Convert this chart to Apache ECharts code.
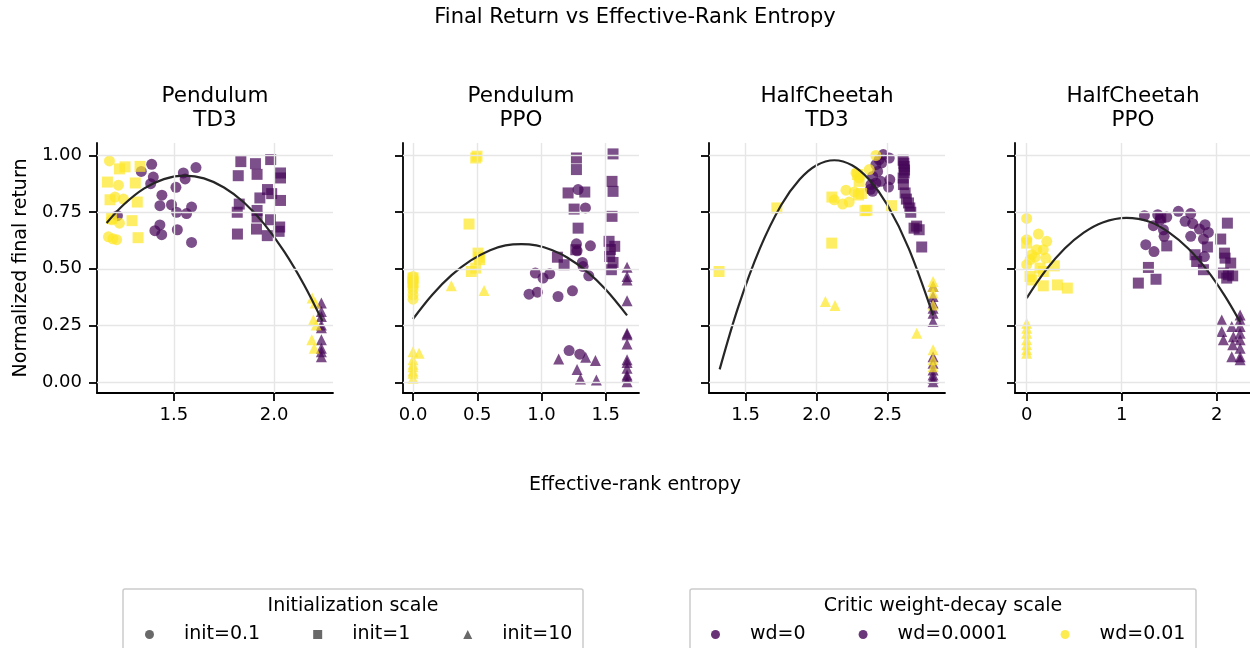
<!DOCTYPE html>
<html><head><meta charset="utf-8">
<script src="https://cdn.jsdelivr.net/npm/echarts@6/dist/echarts.min.js"></script>
<style>html,body{margin:0;padding:0;background:#fff}#c{width:1250px;height:648px}</style>
</head><body><div id="c"></div>
<script>
// ---------- data ----------
const panelTitles = ['Pendulum\nTD3', 'Pendulum\nPPO', 'HalfCheetah\nTD3', 'HalfCheetah\nPPO'];
const initLabels = ['init=0.1', 'init=1', 'init=10'];
const wdLabels = ['wd=0', 'wd=0.0001', 'wd=0.01'];
const wdValues = [0, 0.0001, 0.01];
const yTicks = [0, 0.25, 0.5, 0.75, 1.0];
const xTicksPendTD3 = [1.5, 2.0];
const xTicksPendPPO = [0, 0.5, 1.0, 1.5];
const xTicksCheetahTD3 = [1.5, 2.0, 2.5];
const xTicksCheetahPPO = [0, 1, 2];

// points: [entropy, normalized return, wd]
const pendTD3_init01 = [
 [1.178,0.975,0.01],[1.223,0.868,0.01],[1.206,0.816,0.01],[1.248,0.807,0.01],[1.189,0.716,0.01],[1.228,0.701,0.01],[1.173,0.641,0.01],[1.214,0.628,0.01],[1.195,0.632,0.01],
 [1.389,0.960,0],[1.337,0.929,0.0001],[1.397,0.904,0],[1.384,0.875,0.0001],[1.510,0.859,0],[1.547,0.922,0.0001],[1.556,0.896,0],[1.610,0.946,0.0001],[1.440,0.824,0],[1.430,0.778,0.0001],
 [1.488,0.782,0],[1.513,0.749,0.0001],[1.563,0.743,0],[1.588,0.772,0.0001],[1.218,0.734,0],[1.430,0.693,0.0001],[1.405,0.668,0],[1.439,0.650,0.0001],[1.517,0.672,0],[1.588,0.616,0.0001]
];
const pendTD3_init1 = [
 [1.228,0.940,0.01],[1.256,0.949,0.01],[1.331,0.951,0.01],[1.168,0.882,0.01],[1.307,0.878,0.01],[1.181,0.804,0.01],[1.317,0.794,0.01],[1.189,0.722,0.01],[1.291,0.712,0.01],[1.321,0.637,0.01],
 [1.834,0.972,0],[1.907,0.963,0.0001],[1.983,0.981,0],[1.821,0.910,0.0001],[1.915,0.916,0],[2.032,0.922,0.0001],[2.032,0.900,0],[1.967,0.849,0.0001],[1.988,0.831,0],[1.929,0.812,0.0001],
 [2.032,0.801,0],[1.826,0.785,0.0001],[1.816,0.749,0],[1.915,0.757,0.0001],[1.915,0.728,0],[1.982,0.716,0.0001],[2.028,0.684,0],[2.025,0.665,0.0001],[1.912,0.675,0],[1.966,0.646,0.0001],[1.817,0.653,0]
];
const pendTD3_init10 = [
 [2.190,0.371,0.01],[2.205,0.349,0.01],[2.196,0.275,0.01],[2.210,0.253,0.01],[2.188,0.187,0.01],[2.200,0.150,0.01],
 [2.236,0.349,0],[2.236,0.312,0.0001],[2.236,0.290,0],[2.236,0.253,0.0001],[2.236,0.240,0],[2.236,0.187,0.0001],[2.236,0.150,0],[2.236,0.135,0.0001],[2.236,0.113,0]
];
const pendTD3_fit = [[1.164,0.702],[1.25,0.783],[1.35,0.853],[1.45,0.895],[1.555,0.910],[1.65,0.898],[1.75,0.858],[1.85,0.792],[1.95,0.698],[2.05,0.577],[2.15,0.429],[2.241,0.270]];

const pendPPO_init01 = [
 [0,0.466,0.01],[0,0.451,0.01],[0,0.437,0.01],[0,0.422,0.01],[0,0.407,0.01],[0,0.385,0.01],[0,0.366,0.01],
 [0.952,0.481,0],[1.012,0.459,0.0001],[1.064,0.478,0],[0.903,0.388,0.0001],[0.968,0.397,0],[1.129,0.378,0.0001],[1.241,0.403,0],[1.285,0.849,0.0001],[1.342,0.768,0],
 [1.272,0.610,0.0001],[1.277,0.579,0],[1.318,0.528,0.0001],[1.324,0.510,0],[1.368,0.469,0.0001],[1.381,0.601,0],[1.215,0.140,0.0001],[1.298,0.124,0]
];
const pendPPO_init1 = [
 [0.488,0.988,0.01],[0.498,0.996,0.01],[0.436,0.697,0.01],[0.506,0.569,0.01],[0.519,0.540,0.01],[0.488,0.503,0.01],[0.454,0.488,0.01],[0.514,0.551,0.01],[0,0.460,0.01],[0,0.440,0.01],
 [1.272,0.988,0],[1.272,0.937,0.0001],[1.207,0.834,0],[1.337,0.838,0.0001],[1.254,0.763,0],[1.285,0.679,0.0001],[1.124,0.551,0],[1.176,0.518,0.0001],[1.267,0.584,0],
 [1.557,1.006,0.0001],[1.549,0.885,0],[1.557,0.841,0.0001],[1.549,0.731,0],[1.526,0.621,0.0001],[1.570,0.599,0],[1.531,0.554,0.0001],[1.557,0.528,0],[1.544,0.496,0.0001],[1.536,0.585,0]
];
const pendPPO_init10 = [
 [0.298,0.425,0.01],[0.553,0.404,0.01],[0,0.135,0.01],[0.047,0.128,0.01],[0,0.099,0.01],[0,0.080,0.01],[0,0.069,0.01],[0,0.050,0.01],[0,0.040,0.01],[0,0.018,0.01],
 [1.134,0.103,0],[1.277,0.057,0.0001],[1.303,0.015,0],[1.344,0.110,0.0001],[1.420,0.096,0],[1.427,0.010,0.0001],
 [1.666,0.507,0],[1.666,0.466,0.0001],[1.666,0.451,0],[1.666,0.359,0.0001],[1.666,0.216,0],[1.666,0.209,0.0001],[1.666,0.169,0],[1.666,0.099,0.0001],[1.666,0.087,0],
 [1.666,0.062,0.0001],[1.666,0.032,0],[1.666,0.025,0.0001],[1.666,0.003,0]
];
const pendPPO_fit = [[0,0.279],[0.15,0.386],[0.3,0.472],[0.45,0.537],[0.6,0.582],[0.72,0.603],[0.843,0.609],[0.96,0.603],[1.08,0.583],[1.2,0.550],[1.35,0.490],[1.5,0.409],[1.666,0.295]];

const cheetahTD3_init01 = [
 [2.125,0.804,0.01],[2.184,0.785,0.01],[2.230,0.794,0.01],[2.207,0.846,0.01],[2.266,0.838,0.01],[2.278,0.922,0.01],[2.371,0.937,0.01],[2.418,0.999,0.01],[2.300,0.900,0.01],
 [2.470,1.003,0],[2.512,0.988,0.0001],[2.441,0.981,0],[2.418,0.959,0.0001],[2.430,0.929,0],[2.395,0.907,0.0001],[2.516,0.893,0],[2.453,0.885,0.0001],[2.383,0.871,0],
 [2.507,0.860,0.0001],[2.418,0.878,0],[2.395,0.841,0.0001],[2.460,0.966,0],[2.380,0.850,0.0001]
];
const cheetahTD3_init1 = [
 [1.313,0.488,0.01],[1.720,0.768,0.01],[2.107,0.613,0.01],[2.108,0.816,0.01],[2.528,0.778,0.01],[2.341,0.756,0.01],[2.355,0.758,0.01],[2.289,0.915,0.01],[2.300,0.885,0.01],[2.295,0.825,0.01],[2.316,0.832,0.01],
 [2.610,0.978,0],[2.615,0.965,0.0001],[2.617,0.951,0],[2.620,0.935,0.0001],[2.617,0.922,0],[2.610,0.900,0.0001],[2.612,0.871,0],[2.624,0.834,0.0001],[2.633,0.807,0],[2.648,0.790,0.0001],
 [2.657,0.768,0],[2.664,0.749,0.0001],[2.687,0.679,0],[2.723,0.672,0.0001],[2.705,0.688,0],[2.741,0.596,0.0001]
];
const cheetahTD3_init10 = [
 [2.062,0.356,0.01],[2.130,0.338,0.01],[2.706,0.216,0.01],[2.821,0.444,0.01],[2.821,0.422,0.01],[2.821,0.393,0.01],[2.821,0.341,0.01],[2.821,0.143,0.01],[2.821,0.099,0.01],[2.821,0.069,0.01],
 [2.821,0.422,0],[2.821,0.378,0.0001],[2.821,0.349,0],[2.821,0.326,0.0001],[2.821,0.304,0],[2.821,0.268,0.0001],[2.821,0.113,0],[2.821,0.084,0.0001],[2.821,0.054,0],[2.821,0.032,0.0001],[2.821,0.018,0],[2.821,0.003,0.0001]
];
const cheetahTD3_fit = [[1.317,0.057],[1.45,0.336],[1.6,0.589],[1.75,0.780],[1.88,0.893],[2.0,0.956],[2.125,0.978],[2.25,0.956],[2.37,0.893],[2.5,0.780],[2.65,0.589],[2.821,0.295]];

const cheetahPPO_init01 = [
 [0,0.722,0.01],[0,0.628,0.01],[0.123,0.653,0.01],[0.211,0.621,0.01],[0.175,0.584,0.01],[0.105,0.584,0.01],[0.053,0.562,0.01],[0.088,0.551,0.01],[0.2,0.547,0.01],[0,0.518,0.01],[0.035,0.540,0.01],
 [1.239,0.734,0],[1.379,0.738,0.0001],[1.474,0.728,0],[1.596,0.753,0.0001],[1.726,0.743,0],[1.667,0.709,0.0001],[1.747,0.699,0],[1.877,0.694,0.0001],[1.333,0.690,0],[1.439,0.672,0.0001],
 [1.818,0.675,0],[1.912,0.660,0.0001],[1.446,0.643,0],[1.726,0.643,0.0001],[1.860,0.631,0],[1.253,0.606,0.0001],[1.340,0.576,0],[1.870,0.554,0.0001],[1.404,0.716,0]
];
const cheetahPPO_init1 = [
 [0,0.613,0.01],[0.035,0.466,0.01],[0.053,0.451,0.01],[0.175,0.488,0.01],[0.291,0.513,0.01],[0.175,0.425,0.01],[0.323,0.429,0.01],[0.428,0.415,0.01],[0.140,0.503,0.01],
 [1.411,0.725,0],[1.474,0.601,0.0001],[1.281,0.506,0],[1.361,0.454,0.0001],[1.175,0.437,0],[2.112,0.701,0.0001],[2.042,0.631,0],[1.902,0.596,0.0001],[2.081,0.569,0],
 [2.088,0.547,0.0001],[2.147,0.525,0],[1.772,0.562,0.0001],[1.789,0.532,0],[1.860,0.496,0.0001],[2.070,0.481,0],[2.123,0.474,0.0001],[2.168,0.469,0],[2.105,0.459,0.0001]
];
const cheetahPPO_init10 = [
 [0,0.260,0.01],[0,0.238,0.01],[0,0.216,0.01],[0,0.187,0.01],[0,0.165,0.01],[0,0.143,0.01],[0,0.128,0.01],
 [2.053,0.275,0],[2.053,0.224,0.0001],[2.070,0.187,0],[2.158,0.246,0.0001],[2.246,0.297,0],[2.246,0.275,0.0001],[2.246,0.246,0],[2.246,0.216,0.0001],[2.246,0.187,0],
 [2.246,0.150,0.0001],[2.246,0.113,0],[2.246,0.099,0.0001],[2.168,0.165,0],[2.158,0.113,0.0001],[2.175,0.201,0]
];
const cheetahPPO_fit = [[0,0.371],[0.2,0.493],[0.4,0.589],[0.6,0.659],[0.8,0.704],[1.05,0.724],[1.3,0.706],[1.5,0.659],[1.7,0.589],[1.9,0.493],[2.08,0.384],[2.246,0.266]];

// ---------- layout & style ----------
const FONT = 'DejaVu Sans';
const symbols = ['circle', 'rect', 'triangle'];
const wdColors = ['#440154', '#450559', '#fde725'];
const panels = [
  {sets: [pendTD3_init01, pendTD3_init1, pendTD3_init10], fit: pendTD3_fit, ticks: xTicksPendTD3, min: 1.116, max: 2.294, dec: 1},
  {sets: [pendPPO_init01, pendPPO_init1, pendPPO_init10], fit: pendPPO_fit, ticks: xTicksPendPPO, min: -0.078, max: 1.759, dec: 1},
  {sets: [cheetahTD3_init01, cheetahTD3_init1, cheetahTD3_init10], fit: cheetahTD3_fit, ticks: xTicksCheetahTD3, min: 1.242, max: 2.905, dec: 1},
  {sets: [cheetahPPO_init01, cheetahPPO_init1, cheetahPPO_init10], fit: cheetahPPO_fit, ticks: xTicksCheetahPPO, min: -0.123, max: 2.35, dec: 0}
];
const GL = [97, 403, 709, 1015], GT = 143, GW = 236, GH = 250;

const grid = [], xAxis = [], yAxis = [], series = [], title = [];
const axisLine = {show: true, onZero: false, lineStyle: {color: '#000', width: 1.8}};
panels.forEach((p, pi) => {
  grid.push({left: GL[pi], top: GT, width: GW, height: GH});
  xAxis.push({type: 'value', gridIndex: pi, min: p.min, max: p.max,
    axisLine, splitLine: {show: false},
    axisTick: {show: true, length: 8, customValues: p.ticks, lineStyle: {color: '#000', width: 1.8}},
    axisLabel: {customValues: p.ticks, formatter: v => v.toFixed(p.dec), fontSize: 18, color: '#000', fontFamily: FONT, margin: 13}
  });
  yAxis.push({type: 'value', gridIndex: pi, min: -0.047, max: 1.054,
    axisLine, splitLine: {show: false},
    axisTick: {show: true, length: 8, customValues: yTicks, lineStyle: {color: '#000', width: 1.8}},
    axisLabel: {show: pi === 0, customValues: yTicks, formatter: v => v.toFixed(2), fontSize: 18, color: '#000', fontFamily: FONT, margin: 15},
    name: pi === 0 ? 'Normalized final return' : '', nameLocation: 'middle', nameGap: 66, nameRotate: 90,
    nameTextStyle: {fontSize: 19, color: '#000', fontFamily: FONT}
  });
  // grid lines at tick values
  series.push({type: 'line', xAxisIndex: pi, yAxisIndex: pi, data: [], z: 0, silent: true,
    markLine: {silent: true, symbol: ['none', 'none'], label: {show: false}, animation: false,
      lineStyle: {color: '#e6e6e6', width: 1.4, type: 'solid'},
      data: yTicks.map(v => ({yAxis: v})).concat(p.ticks.map(v => ({xAxis: v})))}
  });
  p.sets.forEach((set, si) => {
    wdValues.forEach((wd, wi) => {
      const pts = set.filter(d => d[2] === wd).map(d => [d[0], d[1]]);
      if (!pts.length) return;
      series.push({type: 'scatter', name: panelTitles[pi].replace('\n', ' ') + ' ' + initLabels[si] + ' ' + wdLabels[wi],
        xAxisIndex: pi, yAxisIndex: pi, data: pts, symbol: symbols[si], symbolSize: 11,
        itemStyle: {color: wdColors[wi], opacity: 0.7}, z: 2, silent: true});
    });
  });
  series.push({type: 'line', name: 'fit ' + pi, xAxisIndex: pi, yAxisIndex: pi, data: p.fit, smooth: 0.35,
    showSymbol: false, symbol: 'none', lineStyle: {color: '#262626', width: 2.2}, z: 3, silent: true});
  title.push({text: panelTitles[pi], left: GL[pi] + GW / 2, textAlign: 'center', top: 84, padding: 0,
    textStyle: {fontSize: 21.5, fontWeight: 'normal', color: '#000', fontFamily: FONT, lineHeight: 24}});
});
// legend-only series
initLabels.forEach(n => series.push({type: 'scatter', name: n, data: [], xAxisIndex: 0, yAxisIndex: 0, itemStyle: {color: '#444'}}));
wdLabels.forEach((n, i) => series.push({type: 'scatter', name: n, data: [], xAxisIndex: 0, yAxisIndex: 0, itemStyle: {color: wdColors[i]}}));

title.push({text: 'Final Return vs Effective-Rank Entropy', left: 635, textAlign: 'center', top: 6, padding: 0,
  textStyle: {fontSize: 21, fontWeight: 'normal', color: '#000', fontFamily: FONT, lineHeight: 24}});
title.push({text: 'Effective-rank entropy', left: 635, textAlign: 'center', top: 474, padding: 0,
  textStyle: {fontSize: 19, fontWeight: 'normal', color: '#000', fontFamily: FONT, lineHeight: 22}});
title.push({text: 'Initialization scale', left: 353, textAlign: 'center', top: 595, padding: 0,
  textStyle: {fontSize: 19, fontWeight: 'normal', color: '#000', fontFamily: FONT, lineHeight: 22}});
title.push({text: 'Critic weight-decay scale', left: 943, textAlign: 'center', top: 595, padding: 0,
  textStyle: {fontSize: 19, fontWeight: 'normal', color: '#000', fontFamily: FONT, lineHeight: 22}});

const legendCommon = {orient: 'horizontal', top: 625, padding: 0, itemWidth: 9, itemHeight: 9, itemGap: 53, selectedMode: false,
  textStyle: {fontSize: 19, color: '#000', fontFamily: FONT, padding: [0, 0, 0, 25]}};
const legend = [
  Object.assign({}, legendCommon, {left: 145, data: initLabels.map((n, i) => ({name: n, icon: symbols[i]}))}),
  Object.assign({}, legendCommon, {left: 711, data: wdLabels.map(n => ({name: n, icon: 'circle'}))})
];

const chart = echarts.init(document.getElementById('c'), null, {renderer: 'canvas'});
chart.setOption({
  animation: false,
  backgroundColor: '#fff',
  textStyle: {fontFamily: FONT},
  graphic: [
    {type: 'rect', shape: {x: 123, y: 589, width: 460, height: 80, r: 2}, style: {fill: '#fff', stroke: '#cccccc', lineWidth: 1.5}, z: -1},
    {type: 'rect', shape: {x: 690, y: 589, width: 506, height: 80, r: 2}, style: {fill: '#fff', stroke: '#cccccc', lineWidth: 1.5}, z: -1}
  ],
  title, grid, xAxis, yAxis, series, legend
});
</script></body></html>
